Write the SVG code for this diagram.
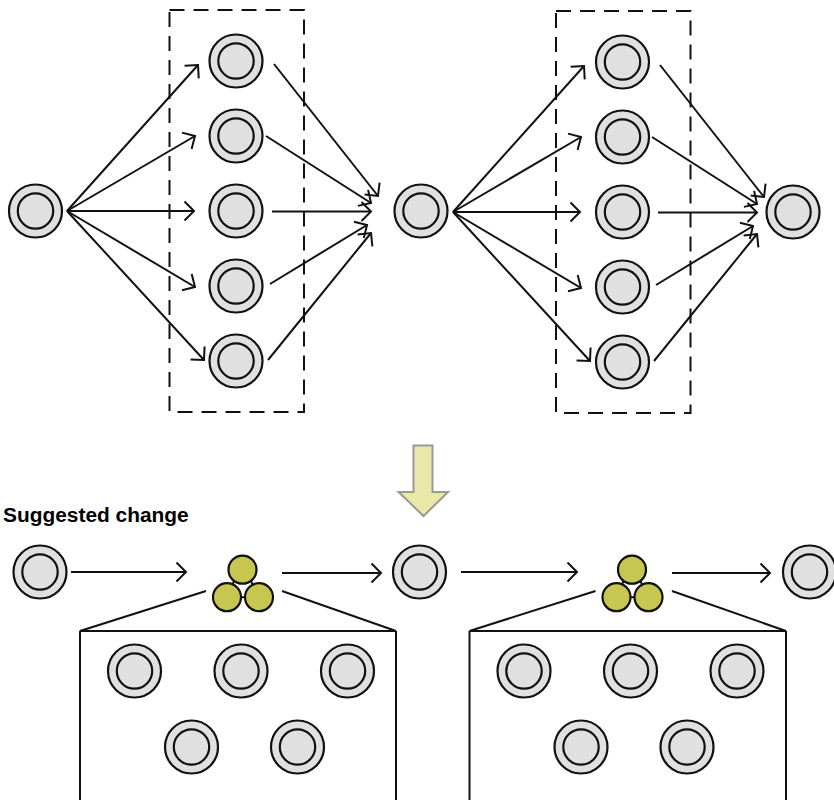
<svg xmlns="http://www.w3.org/2000/svg" width="834" height="800" viewBox="0 0 834 800">
<style>
.o{fill:#e0e0e0;stroke:#111;stroke-width:2.2}
.y{fill:#c6c650;stroke:#111;stroke-width:2.200}
.c line{stroke:#111;stroke-width:2;fill:none;marker-end:url(#a)}
.p line,.p path,.p rect{stroke:#111;stroke-width:2;fill:none}
.d{stroke:#111;stroke-width:2;fill:none;stroke-dasharray:15 9}
text{font-family:"Liberation Sans",Arial,sans-serif;font-weight:bold;font-size:20.900px;fill:#000}
</style>
<defs>
<marker id="a" markerUnits="userSpaceOnUse" markerWidth="24" markerHeight="24" refX="12" refY="12" orient="auto" overflow="visible"><path d="M2.500,2.500L12,12L2.500,21.500" fill="none" stroke="#111" stroke-width="2"/></marker>
<g id="n"><circle r="26.500" class="o"/><circle r="17.700" class="o"/></g>
<g id="k"><line x1="-8" y1="10" x2="-12" y2="20" stroke="#111" stroke-width="2"/><line x1="8" y1="10" x2="12" y2="20" stroke="#111" stroke-width="2"/><line x1="-2" y1="27.500" x2="2" y2="27.500" stroke="#111" stroke-width="2"/><circle cx="0" cy="0" r="14" class="y"/><circle cx="-15.500" cy="27.500" r="14" class="y"/><circle cx="16.500" cy="27.500" r="14" class="y"/></g>
</defs>
<rect width="834" height="800" fill="#fff"/>
<g id="groups">
<rect class="d" x="169.500" y="10" width="134.500" height="402"/>
<rect class="d" x="556" y="11" width="134.500" height="402"/>
</g>
<g id="connectors" class="c">
<line x1="67" y1="211" x2="198" y2="65"/>
<line x1="67" y1="211" x2="195" y2="136"/>
<line x1="67" y1="211" x2="194" y2="211"/>
<line x1="67" y1="211" x2="195" y2="287"/>
<line x1="67" y1="211" x2="204" y2="360"/>
<line x1="274" y1="64" x2="378" y2="196"/>
<line x1="266" y1="136" x2="371" y2="203"/>
<line x1="272" y1="211.500" x2="371" y2="211.500"/>
<line x1="270" y1="284" x2="367" y2="225"/>
<line x1="268" y1="360" x2="371" y2="233"/>
<line x1="453" y1="212" x2="584" y2="66"/>
<line x1="453" y1="212" x2="581" y2="137"/>
<line x1="453" y1="212" x2="580" y2="212"/>
<line x1="453" y1="212" x2="581" y2="288"/>
<line x1="453" y1="212" x2="590" y2="361"/>
<line x1="660" y1="65" x2="764" y2="197"/>
<line x1="652" y1="137" x2="757" y2="204"/>
<line x1="658" y1="212.500" x2="757" y2="212.500"/>
<line x1="656" y1="285" x2="753" y2="226"/>
<line x1="654" y1="361" x2="757" y2="234"/>
<line x1="71" y1="572" x2="186" y2="572"/>
<line x1="282" y1="573" x2="381" y2="573"/>
<line x1="461" y1="572" x2="577" y2="572"/>
<line x1="672" y1="573" x2="770" y2="573"/>
</g>
<g id="callouts" class="p">
<path d="M206,591L80,631L396,631L282,591M80,631V800M396,631V800"/>
<path d="M595.500,591L469.500,631L786,631L672,591M469.500,631V800M786,631V800"/>
</g>
<g id="n1"><use href="#n" x="35.500" y="211"/></g>
<g id="n2"><use href="#n" x="236" y="61"/></g>
<g id="n3"><use href="#n" x="236" y="136"/></g>
<g id="n4"><use href="#n" x="236" y="211"/></g>
<g id="n5"><use href="#n" x="236" y="286"/></g>
<g id="n6"><use href="#n" x="236" y="361"/></g>
<g id="n7"><use href="#n" x="421" y="211"/></g>
<g id="n8"><use href="#n" x="622.500" y="62"/></g>
<g id="n9"><use href="#n" x="622.500" y="137"/></g>
<g id="n10"><use href="#n" x="622.500" y="212"/></g>
<g id="n11"><use href="#n" x="622.500" y="287"/></g>
<g id="n12"><use href="#n" x="622.500" y="362"/></g>
<g id="n13"><use href="#n" x="793" y="212"/></g>
<g id="n14"><use href="#n" x="40" y="572"/></g>
<g id="n15"><use href="#n" x="419.500" y="572"/></g>
<g id="n16"><use href="#n" x="809.500" y="572"/></g>
<g id="k1"><use href="#k" x="242.500" y="569.700"/></g>
<g id="k2"><use href="#k" x="632" y="569.700"/></g>
<g id="n17"><use href="#n" x="134.500" y="671"/></g>
<g id="n18"><use href="#n" x="241" y="671"/></g>
<g id="n19"><use href="#n" x="347.500" y="671"/></g>
<g id="n20"><use href="#n" x="191.500" y="747"/></g>
<g id="n21"><use href="#n" x="297.500" y="747"/></g>
<g id="n22"><use href="#n" x="524" y="671"/></g>
<g id="n23"><use href="#n" x="630.500" y="671"/></g>
<g id="n24"><use href="#n" x="737" y="671"/></g>
<g id="n25"><use href="#n" x="581" y="747"/></g>
<g id="n26"><use href="#n" x="687" y="747"/></g>
<g id="down"><path d="M413.500,445.500H432.500V492H448L423.500,516L398.500,492H413.500Z" fill="#e8e8a8" stroke="#999" stroke-width="2"/></g>
<text x="3" y="522">Suggested change</text>
</svg>
